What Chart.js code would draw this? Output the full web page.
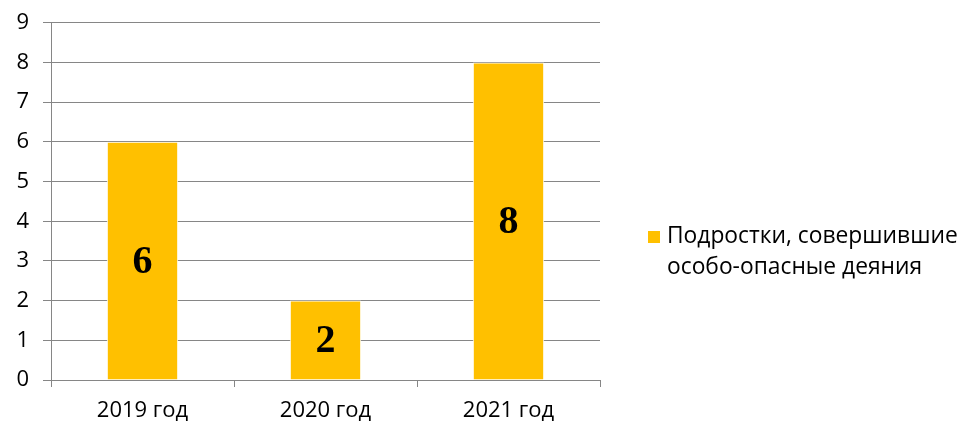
<!DOCTYPE html>
<html>
<head>
<meta charset="utf-8">
<script src="https://cdn.jsdelivr.net/npm/chart.js@4"></script>
<style>
  html, body { margin: 0; padding: 0; background: #fff; }
  #wrap { width: 960px; height: 424px; }
</style>
</head>
<body>
<div id="wrap"><canvas id="grafica"></canvas></div>
<script>
// datos
const categorias = ['2019 год', '2020 год', '2021 год'];
const valores = [6, 2, 8];
const etiquetaSerie = ['Подростки, совершившие', 'особо-опасные деяния'];
const ticksY = [0, 1, 2, 3, 4, 5, 6, 7, 8, 9];

const amarillo = '#FFC000';
const gris = '#868686';
const fuente = '"Open Sans", Lato, sans-serif';

// etiquetas dentro de las barras
const etiquetasBarras = {
    id: 'etiquetasBarras',
    afterDatasetsDraw(chart) {
        const ctx = chart.ctx;
        const meta = chart.getDatasetMeta(0);
        ctx.save();
        ctx.font = 'bold 40px "Liberation Serif", "Times New Roman", serif';
        ctx.fillStyle = '#000';
        ctx.textAlign = 'center';
        ctx.textBaseline = 'middle';
        meta.data.forEach((bar, i) => {
            const y = (bar.y + bar.base) / 2;
            ctx.fillText(String(valores[i]), bar.x, y + 2);
        });
        ctx.restore();
    }
};

// leyenda a la derecha
const leyenda = {
    id: 'leyenda',
    afterDraw(chart) {
        const ctx = chart.ctx;
        const x = 648, y = 237;
        ctx.save();
        ctx.fillStyle = amarillo;
        ctx.fillRect(x, y - 6, 12, 12);
        ctx.font = '22.8px ' + fuente;
        ctx.fillStyle = '#000';
        ctx.textAlign = 'left';
        ctx.textBaseline = 'middle';
        etiquetaSerie.forEach((linea, i) => {
            ctx.fillText(linea, x + 19, y + i * 31);
        });
        ctx.restore();
    }
};

new Chart(document.getElementById('grafica'), {
    type: 'bar',
    data: {
        labels: categorias,
        datasets: [{
            label: etiquetaSerie.join(' '),
            data: valores,
            backgroundColor: amarillo,
            borderColor: '#fff',
            borderWidth: 1,
            categoryPercentage: 1,
            barPercentage: 0.39
        }]
    },
    options: {
        responsive: true,
        maintainAspectRatio: false,
        animation: false,
        layout: { padding: { left: 0, right: 360, top: 0, bottom: 0 } },
        plugins: {
            legend: { display: false },
            tooltip: { enabled: false }
        },
        scales: {
            x: {
                afterFit: (eje) => { eje.height = 44; },
                grid: { drawOnChartArea: false, drawTicks: true, tickLength: 7, color: gris, offset: true },
                border: { color: gris, width: 1 },
                ticks: {
                    color: '#000',
                    padding: 11,
                    font: { family: fuente, size: 22 }
                }
            },
            y: {
                min: 0,
                max: 9,
                afterBuildTicks: (eje) => { eje.ticks = ticksY.map(v => ({ value: v })); },
                afterFit: (eje) => { eje.width = 51; },
                grid: { color: gris, tickLength: 8, lineWidth: 1 },
                border: { color: gris, width: 1 },
                ticks: {
                    color: '#000',
                    padding: 14,
                    font: { family: fuente, size: 22, lineHeight: 0.8 }
                }
            }
        }
    },
    plugins: [etiquetasBarras, leyenda]
});
</script>
</body>
</html>
